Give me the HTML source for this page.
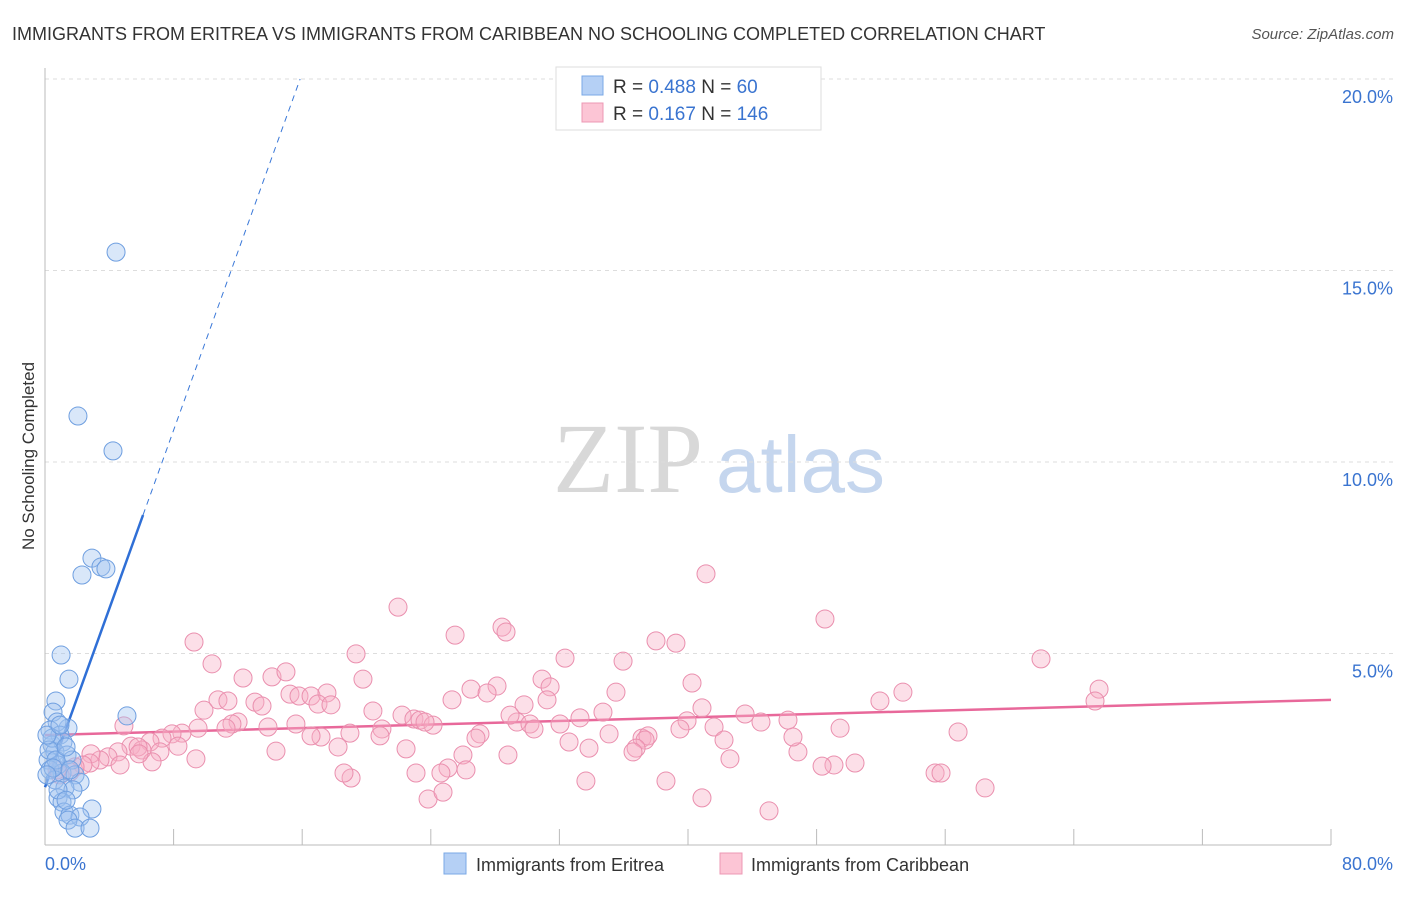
<!DOCTYPE html>
<html><head><meta charset="utf-8"><style>
body{margin:0;background:#fff;width:1406px;height:892px;overflow:hidden;font-family:"Liberation Sans",sans-serif}
</style></head><body>
<svg width="1406" height="892" xmlns="http://www.w3.org/2000/svg">
<text x="12" y="40" font-size="18" fill="#333">IMMIGRANTS FROM ERITREA VS IMMIGRANTS FROM CARIBBEAN NO SCHOOLING COMPLETED CORRELATION CHART</text>
<text x="1394" y="39" font-size="15" fill="#555" font-style="italic" text-anchor="end">Source: ZipAtlas.com</text>
<g>
<text x="553" y="492" font-size="100" font-family="Liberation Serif,serif" fill="#d8d8d8">ZIP</text>
<text x="716" y="492" font-size="80" fill="#c5d6ee">atlas</text>
</g>
<g id="grid"></g>
<g id="axes"></g>
<g id="lines"></g>
<g id="pts"></g>
<text x="34" y="456" font-size="17" fill="#333" text-anchor="middle" transform="rotate(-90 34 456)">No Schooling Completed</text>
<g>
<rect x="556" y="67" width="265" height="63" fill="#fff" stroke="#ddd"/>
<rect x="582" y="76" width="21" height="19" fill="#b5d0f5" stroke="#7aa8e6"/>
<rect x="582" y="103" width="21" height="19" fill="#fcc5d5" stroke="#ec98b4"/>
<text x="613" y="93" font-size="19" fill="#333">R = <tspan fill="#3a74d0">0.488</tspan>   N = <tspan fill="#3a74d0">  60</tspan></text>
<text x="613" y="120" font-size="19" fill="#333">R =  <tspan fill="#3a74d0">0.167</tspan>   N = <tspan fill="#3a74d0">146</tspan></text>
</g>
<g>
<rect x="444" y="853" width="22" height="21" fill="#b5d0f5" stroke="#7aa8e6"/>
<text x="476" y="871" font-size="18" fill="#333">Immigrants from Eritrea</text>
<rect x="720" y="853" width="22" height="21" fill="#fcc5d5" stroke="#ec98b4"/>
<text x="751" y="871" font-size="18" fill="#333">Immigrants from Caribbean</text>
</g>
</svg>
<script>
const yTicks=[5,10,15,20];
const yTickLabels=["5.0%","10.0%","15.0%","20.0%"];
const xTickLabels=["0.0%","80.0%"];
const eritreaX=[4.42,2.05,4.23,2.92,2.30,3.48,3.79,1.0,1.49,0.68,5.10,1.43,0.5,0.75,0.31,0.93,0.44,1.12,0.62,1.37,0.19,0.81,1.68,0.31,1.06,1.87,0.62,2.18,1.24,1.74,0.81,1.06,2.92,1.18,1.55,2.18,1.43,1.87,2.8,0.44,0.25,0.68,0.12,0.93,1.31,0.5,0.12,1.55,0.81,1.31];
const eritreaY=[15.48,11.20,10.29,7.49,7.05,7.26,7.21,4.96,4.33,3.76,3.37,3.05,3.47,3.21,3.0,2.87,2.61,2.69,2.43,2.35,2.22,2.09,2.22,1.96,1.88,1.83,1.70,1.64,1.49,1.44,1.23,1.12,0.94,0.86,0.78,0.73,0.65,0.44,0.44,2.79,2.48,2.22,2.87,3.13,2.56,2.01,1.83,1.96,1.44,1.17];
const caribX=[9.27,10.39,12.32,14.12,14.99,10.76,11.38,9.89,13.06,13.50,15.24,15.80,16.55,17.54,16.98,17.79,19.35,19.78,21.96,25.51,28.43,28.68,32.35,26.50,28.12,27.50,30.92,31.42,25.32,29.80,31.23,20.40,22.21,22.95,23.33,24.14,23.64,20.96,18.97,17.17,16.55,15.61,13.87,12.01,11.63,11.26,9.52,8.52,7.90,7.28,6.53,5.35,6.03,4.91,5.79,4.54,3.92,3.42,2.86,2.80,2.36,1.87,1.56,0.93,0.75,8.27,7.15,6.66,5.85,9.39,4.67,14.37,18.23,20.84,22.46,26.00,28.80,29.36,30.17,32.04,33.28,34.71,35.52,35.96,38.01,39.25,41.12,40.25,41.62,39.94,37.14,37.51,37.33,35.09,33.84,32.60,30.42,28.93,27.06,26.81,25.07,26.19,23.08,24.63,19.04,18.60,23.83,24.76,33.65,38.63,40.87,45.04,48.52,51.94,53.37,61.96,65.57,65.32,56.80,55.37,55.74,58.48,50.39,49.08,48.34,46.84,42.61,42.24,43.55,44.54,46.22,46.53,49.46,36.77,40.87,39.50,36.58];
const caribY=[5.30,4.73,4.36,4.39,4.52,3.79,3.76,3.52,3.73,3.63,3.94,3.89,3.89,3.97,3.68,3.66,4.99,4.33,6.21,5.48,5.69,5.56,4.88,4.07,4.15,3.97,4.33,4.13,3.79,3.66,3.79,3.50,3.39,3.29,3.26,3.13,3.21,3.03,2.92,2.82,2.85,3.16,3.08,3.21,3.16,3.05,3.05,2.92,2.90,2.79,2.69,2.58,2.48,3.11,2.56,2.43,2.30,2.22,2.38,2.14,2.09,2.04,1.91,1.83,1.96,2.58,2.43,2.17,2.38,2.25,2.09,2.45,2.56,2.85,2.51,2.35,2.35,3.21,3.16,3.16,3.32,3.47,3.99,4.80,5.33,5.27,7.08,4.23,3.08,3.24,2.79,2.85,2.74,2.90,2.53,2.69,3.03,3.39,2.90,2.79,2.01,1.96,1.88,1.88,1.75,1.88,1.20,1.38,1.67,1.67,1.23,0.89,5.90,3.76,3.99,4.86,4.07,3.76,2.95,1.88,1.88,1.49,2.14,2.09,2.06,2.43,2.25,2.74,3.42,3.21,3.26,2.82,3.05,2.53,3.58,3.03,2.43];
const eritreaTrend=[1.51,1.165]; // intercept, slope
const caribTrend=[2.87,3.79]; // y at 0%, y at 80%
const X0=45,X1=1331,Y0=845,PY=38.3;
const sx=v=>X0+(X1-X0)*v/80, sy=v=>Y0-v*PY;
const NS="http://www.w3.org/2000/svg";
function mk(t,p,a){const e=document.createElementNS(NS,t);for(const k in a)e.setAttribute(k,a[k]);p.appendChild(e);return e;}
const grid=document.getElementById('grid'),axes=document.getElementById('axes'),lines=document.getElementById('lines'),pts=document.getElementById('pts');
yTicks.forEach((t,i)=>{
const g=mk('line',grid,{x1:X0,x2:1395,y1:sy(t),y2:sy(t),stroke:'#ddd','stroke-dasharray':'4,4'});


const l=mk('text',axes,{x:1393,y:sy(t)+24,'font-size':18,fill:'#3a74d0','text-anchor':'end'});
l.textContent=yTickLabels[i];


});
const ax=mk('line',axes,{x1:X0,x2:X0,y1:68,y2:Y0,stroke:'#bbb'});


const bx=mk('line',axes,{x1:X0,x2:X1,y1:Y0,y2:Y0,stroke:'#bbb'});


for(let i=0;i<=10;i++){const v=i*8;const t=mk('line',axes,{x1:sx(v),x2:sx(v),y1:Y0-16,y2:Y0,stroke:'#bbb'});

}
const xl0=mk('text',axes,{x:45,y:870,'font-size':18,fill:'#3a74d0'});xl0.textContent=xTickLabels[0];


const xl1=mk('text',axes,{x:1393,y:870,'font-size':18,fill:'#3a74d0','text-anchor':'end'});xl1.textContent=xTickLabels[1];


caribX.forEach((x,i)=>{const c=mk('circle',pts,{cx:sx(x),cy:sy(caribY[i]),r:9,fill:'rgba(248,175,198,0.4)',stroke:'#ea8fae','stroke-width':1});

});
eritreaX.forEach((x,i)=>{const c=mk('circle',pts,{cx:sx(x),cy:sy(eritreaY[i]),r:9,fill:'rgba(160,196,240,0.4)',stroke:'#6f9fe0','stroke-width':1});

});
const fE=v=>eritreaTrend[0]+eritreaTrend[1]*v;
const xe=(20-eritreaTrend[0])/eritreaTrend[1];
const d1=mk('line',lines,{x1:sx(6.1),y1:sy(fE(6.1)),x2:sx(xe),y2:sy(20),stroke:'#3a78d8','stroke-width':1,'stroke-dasharray':'6,5'});


const l1=mk('line',lines,{x1:sx(0),y1:sy(fE(0)),x2:sx(6.1),y2:sy(fE(6.1)),stroke:'#2f6fd6','stroke-width':2.5});


const l2=mk('line',lines,{x1:sx(0),y1:sy(caribTrend[0]),x2:sx(80),y2:sy(caribTrend[1]),stroke:'#e8689a','stroke-width':2.5});


</script>
</body></html>
